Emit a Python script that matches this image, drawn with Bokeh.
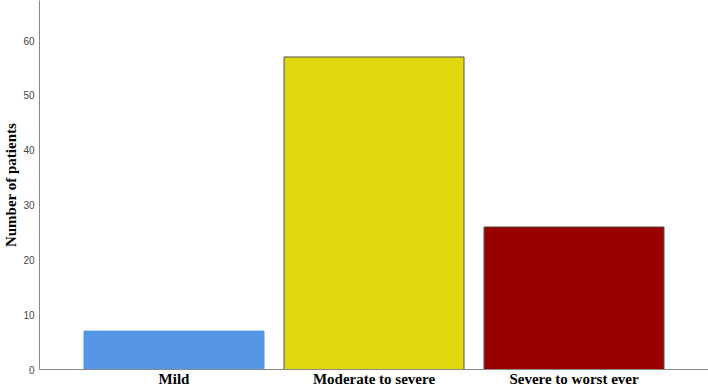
from bokeh.plotting import figure
from bokeh.models import ColumnDataSource, FactorRange, Range1d, FixedTicker
from bokeh.embed import file_html
from bokeh.resources import INLINE

categories = ["Mild", "Moderate to severe", "Severe to worst ever"]
patients = [7, 57, 26]
fill_colors = ["#5596e5", "#e1d70f", "#990000"]
edge_colors = ["#5596e5", "#555555", "#555555"]
y_ticks = [0, 10, 20, 30, 40, 50, 60]

src = ColumnDataSource(dict(cat=categories, val=patients, fc=fill_colors, ec=edge_colors))

p = figure(width=708, height=389, output_backend="svg", toolbar_location=None,
           x_range=FactorRange(factors=categories, range_padding=0.345 / 3, range_padding_units="percent"),
           y_range=Range1d(0, 67.3))
p.vbar(x="cat", top="val", width=0.9, source=src, fill_color="fc", line_color="ec", line_width=1)

p.min_border_left = 39
p.min_border_right = 0
p.min_border_top = 0
p.min_border_bottom = 19
p.outline_line_color = None
p.xgrid.grid_line_color = None
p.ygrid.grid_line_color = None

p.yaxis.ticker = FixedTicker(ticks=y_ticks)
p.yaxis.axis_label = "Number of patients"
p.yaxis.axis_label_text_font = "Liberation Serif"
p.yaxis.axis_label_text_font_style = "bold"
p.yaxis.axis_label_text_font_size = "15px"
p.yaxis.axis_label_text_color = "#000000"
p.yaxis.axis_label_standoff = 1
p.yaxis.major_label_text_font = "Liberation Sans"
p.yaxis.major_label_text_font_size = "10px"
p.yaxis.major_label_text_color = "#444444"
p.yaxis.major_label_standoff = 5
p.yaxis.major_tick_out = 0
p.yaxis.major_tick_in = 0
p.yaxis.minor_tick_out = 0
p.yaxis.minor_tick_in = 0
p.yaxis.major_tick_line_color = None
p.yaxis.minor_tick_line_color = None
p.yaxis.axis_line_color = "#888888"

p.xaxis.major_label_text_font = "Liberation Serif"
p.xaxis.major_label_text_font_style = "bold"
p.xaxis.major_label_text_font_size = "15px"
p.xaxis.major_label_text_color = "#000000"
p.xaxis.major_label_standoff = 1
p.xaxis.major_tick_out = 0
p.xaxis.major_tick_in = 0
p.xaxis.minor_tick_out = 0
p.xaxis.minor_tick_in = 0
p.xaxis.major_tick_line_color = None
p.xaxis.minor_tick_line_color = None
p.xaxis.axis_line_color = "#888888"

open("out.html", "w").write(file_html(p, INLINE))
